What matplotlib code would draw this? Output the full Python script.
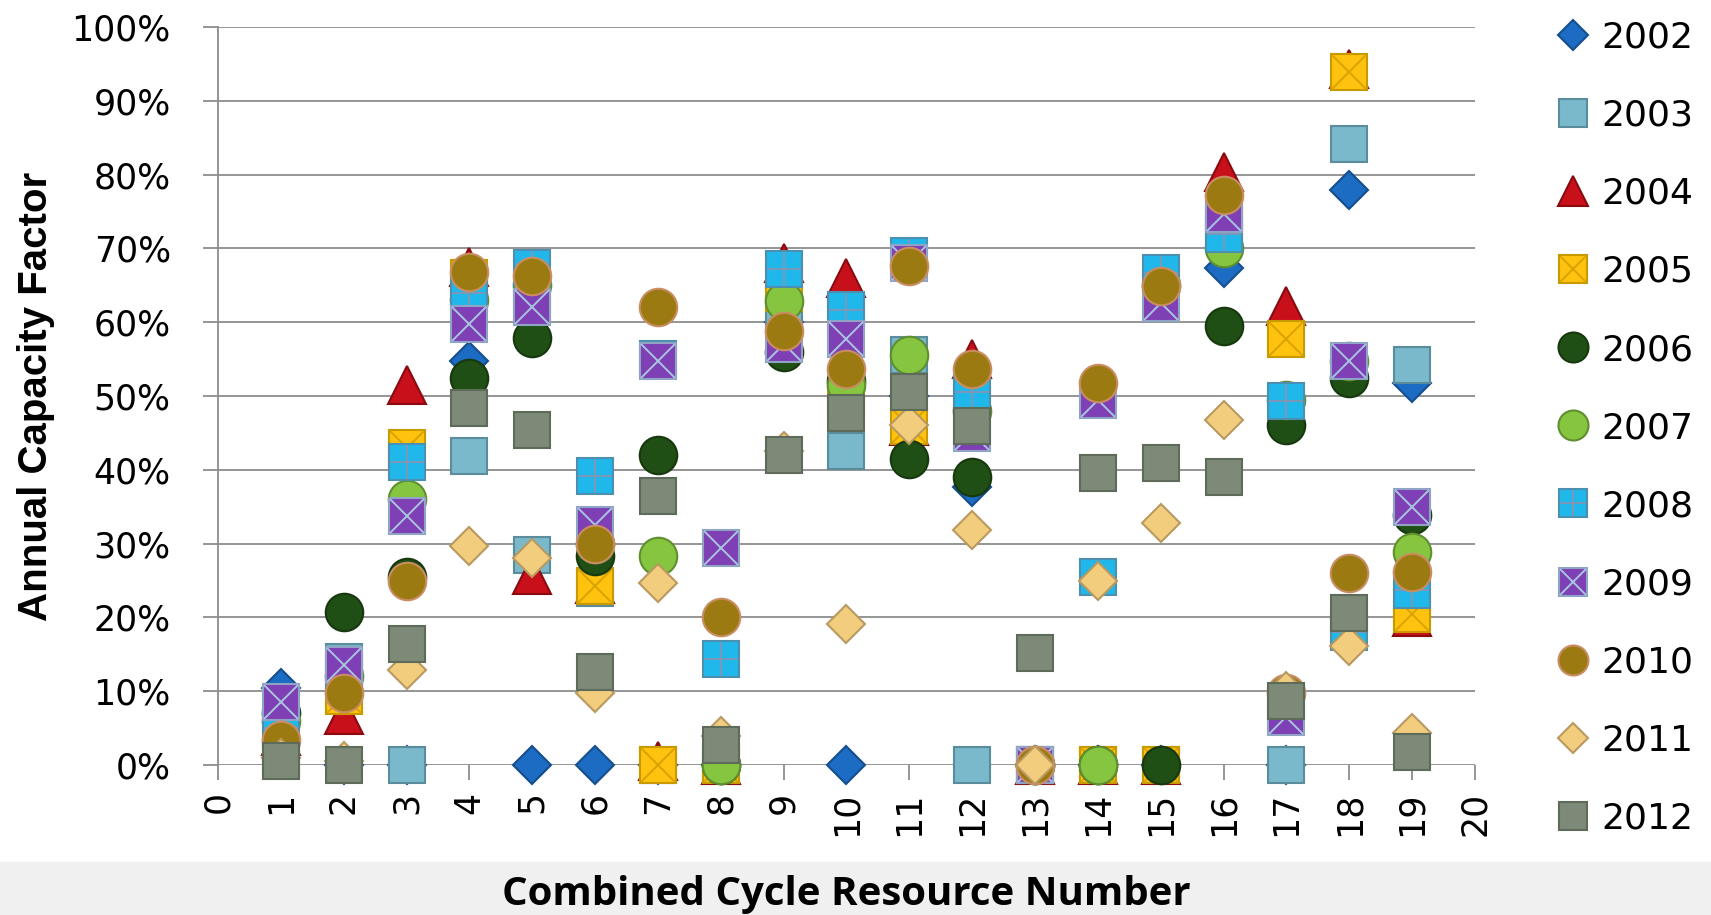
import matplotlib
matplotlib.use("Agg")
import matplotlib.pyplot as plt
from matplotlib.legend_handler import HandlerTuple
from matplotlib.patches import Rectangle
from matplotlib.ticker import PercentFormatter

# ---------------------------------------------------------
# Data (annual capacity factor, %)
# ---------------------------------------------------------
resources = list(range(1, 20))
years = ["2002", "2003", "2004", "2005", "2006", "2007",
         "2008", "2009", "2010", "2011", "2012"]

cf_2002 = [10.5, 0, 0, 54.7, 0, 0, 0, 0, 60, 0, 50, 37.7, 0, 0, 0, 67.4, 0, 77.9, 51.8]
cf_2003 = [1, 14, 0, 41.9, 28.5, 24, 0, 0, 61, 42.5, 55.6, 0, 0, 0, 0, 73, 0, 84.1, 54.2]
cf_2004 = [4, 6.8, 51.5, 67.5, 25.8, 24.5, 0.5, 0, 68, 66, 46, 55, 0, 0, 0, 80.3, 62.2, 94.3, 20]
cf_2005 = [5, 9.3, 43, 66, 62, 24.2, 0, 0, 64, 50, 45.9, 50, 0, 0, 0, 75, 57.7, 93.9, 20.4]
cf_2006 = [7, 20.8, 25.5, 52.4, 57.9, 28.3, 42, 0, 56, 52, 41.4, 39, 0, 0, 0, 59.5, 46.1, 52.4, 33.9]
cf_2007 = [6, 12, 36, 63, 65, 30, 28.3, 0, 62.9, 51.5, 55.6, 48, 0, 0, 65, 70, 49.5, 54.7, 28.9]
cf_2008 = [5, 12, 41, 64, 67.4, 39.2, 55, 14.3, 67.2, 61.7, 69, 50.6, 0, 25.5, 66.7, 72, 49.3, 18, 23.7]
cf_2009 = [8.6, 13.6, 33.7, 59.7, 62.1, 32.5, 54.7, 29.4, 57, 57.7, 68, 45, 0, 49.5, 62.6, 74.6, 6.5, 54.7, 35]
cf_2010 = [3.4, 9.7, 24.9, 66.8, 66.2, 30, 62.1, 20.1, 58.8, 53.7, 67.6, 53.6, 0, 51.8, 64.9, 77.3, 9.7, 26, 26.2]
cf_2011 = [1, 0.5, 12.9, 29.7, 28, 9.7, 24.6, 4, 42.5, 19.1, 46.1, 31.9, 0, 25, 32.8, 46.7, 10, 16.1, 4.3]
cf_2012 = [0.5, 0, 16.4, 48.4, 45.4, 12.6, 36.5, 2.7, 42, 47.7, 50.6, 46, 15.2, 39.6, 40.9, 39, 8.7, 20.6, 1.7]

series = [cf_2002, cf_2003, cf_2004, cf_2005, cf_2006, cf_2007,
          cf_2008, cf_2009, cf_2010, cf_2011, cf_2012]

# marker, size, face, edge, overlay marker, overlay colour
styles = [
    ("D", 19, "#1c6cc4", "#164f8c", None, None),
    ("s", 26, "#7ab8cc", "#5b8c9c", None, None),
    ("^", 27, "#c8101a", "#8a0a10", None, None),
    ("s", 26, "#ffc20e", "#c99a00", "x", "#d9a400"),
    ("o", 27, "#1f4f14", "#17380f", None, None),
    ("o", 27, "#86c540", "#5f8f2e", None, None),
    ("s", 26, "#20b8ea", "#4d8fb0", "+", "#7f98b8"),
    ("s", 26, "#7f3fb5", "#8fa3c4", "x", "#a8c4e0"),
    ("o", 27, "#9c7a12", "#c98d62", None, None),
    ("D", 19, "#f3cd7e", "#b89a60", None, None),
    ("s", 26, "#7e8a78", "#5e6a5a", None, None),
]

# ---------------------------------------------------------
# Figure
# ---------------------------------------------------------
fig = plt.figure(figsize=(17.11, 9.15), dpi=100)
fig.patches.append(Rectangle((0, 0), 1, 0.058, transform=fig.transFigure,
                             color="#f0f0f0", zorder=0))
ax = fig.add_axes([0.1274, 0.1639, 0.7346, 0.8066])

handles = []
for i, (vals, st) in enumerate(zip(series, styles)):
    mk, ms, fc, ec, ov, oc = st
    base, = ax.plot(resources, vals, linestyle="none", marker=mk, markersize=ms,
                    markerfacecolor=fc, markeredgecolor=ec, markeredgewidth=1.5,
                    clip_on=False, zorder=3 + 2 * i)
    h = base
    if ov is not None:
        over, = ax.plot(resources, vals, linestyle="none", marker=ov,
                        markersize=ms * 0.92, markeredgecolor=oc,
                        markeredgewidth=1.4, clip_on=False, zorder=4 + 2 * i)
        h = (base, over)
    handles.append(h)

ax.set_xlim(0, 20)
ax.set_ylim(0, 100)
ax.set_xticks(range(0, 21))
ax.set_yticks(range(0, 101, 10))
ax.yaxis.set_major_formatter(PercentFormatter(decimals=0))
ax.grid(axis="y", color="#8c8c8c", linewidth=1.3, zorder=1)
ax.set_axisbelow(True)
for s in ["top", "right", "bottom"]:
    ax.spines[s].set_visible(False)
ax.spines["left"].set_color("#8c8c8c")
ax.spines["left"].set_linewidth(1.3)

ax.tick_params(axis="y", length=11, width=1.3, color="#8c8c8c", pad=23,
               labelsize=25)
ax.tick_params(axis="x", length=11, width=1.3, color="#8c8c8c", pad=8,
               labelsize=25, labelrotation=90)
for lab in ax.get_xticklabels() + ax.get_yticklabels():
    lab.set_family("DejaVu Sans")

ax.set_ylabel("Annual Capacity Factor", fontsize=29, fontweight="bold",
              family=["Liberation Sans", "DejaVu Sans"], labelpad=12)
fig.text(0.4945, 0.022, "Combined Cycle Resource Number", ha="center",
         va="center", fontsize=29, fontweight="bold",
         family=["Open Sans", "DejaVu Sans"])

leg = fig.legend(handles, years, loc="upper left",
                 bbox_to_anchor=(0.898, 0.997), frameon=False,
                 fontsize=26, handlelength=1.0, handletextpad=0.3,
                 labelspacing=1.22, borderpad=0, markerscale=0.8,
                 handler_map={tuple: HandlerTuple(ndivide=1, pad=0)})
for t in leg.get_texts():
    t.set_family("DejaVu Sans")

fig.savefig("out.png", dpi=100)
